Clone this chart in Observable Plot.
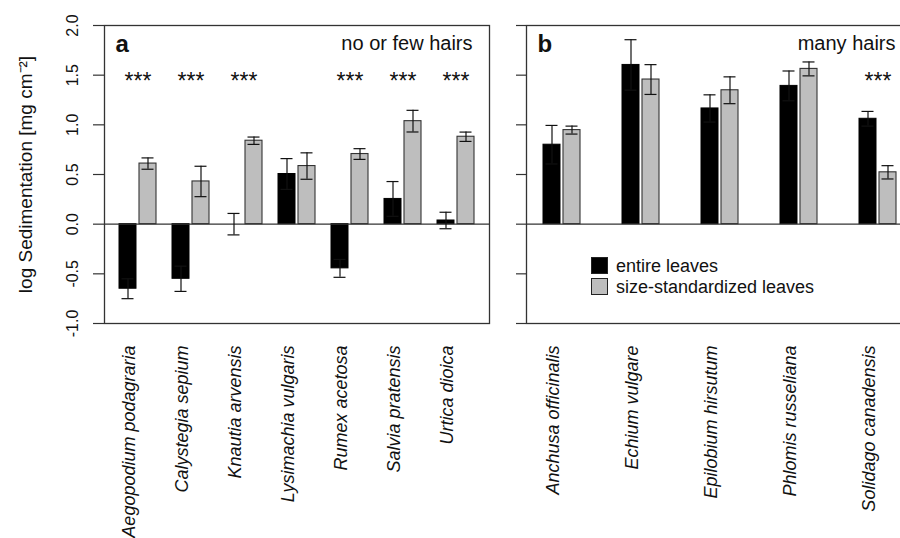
<!DOCTYPE html>
<html><head><meta charset="utf-8">
<script src="https://cdn.jsdelivr.net/npm/d3@7"></script>
<script src="https://cdn.jsdelivr.net/npm/@observablehq/plot@0.6"></script>
<style>
html,body{margin:0;padding:0;background:#fff;overflow:hidden;}
#wrap{position:relative;width:900px;height:538px;overflow:hidden;font-family:"Liberation Sans",Arial,sans-serif;background:#fff;}
#pa{position:absolute;left:0;top:0;width:505px;}
#pb{position:absolute;left:505px;top:0;width:408px;}
#pa svg,#pb svg{max-width:none !important;display:block;}
.sw{position:absolute;width:17px;height:17px;box-sizing:border-box;border:1px solid #222;}
.lt{position:absolute;font-size:18px;line-height:20px;color:#111;white-space:nowrap;}
</style></head><body>
<div id="wrap"><div id="pa"></div><div id="pb"></div><div id="legend"></div></div>
<script>
// ---- data ----
const speciesA = ["Aegopodium podagraria","Calystegia sepium","Knautia arvensis","Lysimachia vulgaris","Rumex acetosa","Salvia pratensis","Urtica dioica"];
const entireA   = [-0.65, -0.55, 0.0, 0.505, -0.445, 0.254, 0.037];
const entireSeA = [0.10, 0.127, 0.108, 0.155, 0.09, 0.175, 0.083];
const sizeA     = [0.61, 0.43, 0.84, 0.585, 0.706, 1.037, 0.88];
const sizeSeA   = [0.057, 0.153, 0.037, 0.133, 0.054, 0.109, 0.047];
const starsA    = ["Aegopodium podagraria","Calystegia sepium","Knautia arvensis","Rumex acetosa","Salvia pratensis","Urtica dioica"];

const speciesB = ["Anchusa officinalis","Echium vulgare","Epilobium hirsutum","Phlomis russeliana","Solidago canadensis"];
const entireB   = [0.80, 1.603, 1.165, 1.392, 1.061];
const entireSeB = [0.194, 0.254, 0.137, 0.15, 0.074];
const sizeB     = [0.947, 1.456, 1.348, 1.563, 0.522];
const sizeSeB   = [0.04, 0.15, 0.135, 0.07, 0.067];
const starsB    = ["Solidago canadensis"];

const yTicks = [-1, -0.5, 0, 0.5, 1, 1.5, 2];
const starLevel = 1.5;
const legendLabels = ["entire leaves", "size-standardized leaves"];
const legendColors = ["#000000", "#bebebe"];
const yTitle = "log Sedimentation [mg cm\u207B\u00B2]";

const FONT = '"Liberation Sans", Arial, sans-serif';

function panel(o) {
  const rows = o.species.map((s, i) => ({species: s, entire: o.entire[i], entireSe: o.entireSe[i], size: o.size[i], sizeSe: o.sizeSe[i]}));
  const starRows = rows.filter(d => o.stars.includes(d.species));
  const marks = [
    Plot.barY(rows, {x: "species", y: "entire", fill: legendColors[0], stroke: "#000", strokeWidth: 1, insetRight: 20}),
    Plot.barY(rows, {x: "species", y: "size", fill: legendColors[1], stroke: "#333", strokeWidth: 1.1, insetLeft: 20}),
    Plot.ruleY([0], {stroke: "#333", strokeWidth: 1.2}),
    Plot.ruleX(rows, {x: "species", y1: d => d.entire - d.entireSe, y2: d => d.entire + d.entireSe, dx: -10, stroke: "#111", strokeWidth: 1.2}),
    Plot.ruleX(rows, {x: "species", y1: d => d.size - d.sizeSe, y2: d => d.size + d.sizeSe, dx: 10, stroke: "#111", strokeWidth: 1.2}),
    Plot.tickY(rows, {x: "species", y: d => d.entire + d.entireSe, insetLeft: 2.5, insetRight: 22.5, stroke: "#111", strokeWidth: 1.2}),
    Plot.tickY(rows, {x: "species", y: d => d.entire - d.entireSe, insetLeft: 2.5, insetRight: 22.5, stroke: "#111", strokeWidth: 1.2}),
    Plot.tickY(rows, {x: "species", y: d => d.size + d.sizeSe, insetLeft: 22.5, insetRight: 2.5, stroke: "#111", strokeWidth: 1.2}),
    Plot.tickY(rows, {x: "species", y: d => d.size - d.sizeSe, insetLeft: 22.5, insetRight: 2.5, stroke: "#111", strokeWidth: 1.2}),
    Plot.text(starRows, {x: "species", y: () => starLevel, text: () => "***", fontSize: 23, dy: 6, fill: "#111"}),
    Plot.text(rows, {x: "species", text: "species", frameAnchor: "bottom", rotate: -90, textAnchor: "end", lineAnchor: "middle", dy: 22, dx: -9, fontStyle: "italic", fontSize: 18, fill: "#111"}),
    Plot.text([o.letter], {text: d => d, frameAnchor: "top-left", textAnchor: "start", lineAnchor: "bottom", dx: 11, dy: 26, fontWeight: "bold", fontSize: 24, fill: "#111"}),
    Plot.text([o.title], {text: d => d, frameAnchor: "top-right", textAnchor: "end", lineAnchor: "bottom", dx: -17, dy: 24, fontSize: 20, fill: "#111"}),
    Plot.axisY({ticks: yTicks, tickSize: o.tickSize, tickFormat: () => "", label: null, stroke: "#333", strokeWidth: 1.2}),
    Plot.frame({stroke: "#333", strokeWidth: 1.3})
  ];
  if (o.labels) {
    marks.push(Plot.text(yTicks, {y: d => d, text: d => d.toFixed(1), frameAnchor: "left", textAnchor: "middle", rotate: -90, dx: -32, fontSize: 16, fill: "#111"}));
    marks.push(Plot.text([yTitle], {text: d => d, frameAnchor: "left", textAnchor: "middle", rotate: -90, dx: -79, fontSize: 19, fill: "#111"}));
  }
  return Plot.plot({
    width: o.width, height: 538,
    marginLeft: o.marginLeft, marginRight: o.marginRight, marginTop: 25, marginBottom: 215,
    style: {fontFamily: FONT, background: "transparent", overflow: "visible", maxWidth: "none"},
    x: {domain: o.species, paddingInner: o.pi, paddingOuter: o.po, axis: null},
    y: {domain: [-1, 2], axis: null},
    marks
  });
}

document.getElementById("pa").appendChild(panel({
  species: speciesA, entire: entireA, entireSe: entireSeA, size: sizeA, sizeSe: sizeSeA, stars: starsA,
  width: 505, marginLeft: 104, marginRight: 16, pi: 0.306, po: 0.263, letter: "a", title: "no or few hairs", labels: true, tickSize: 11
}));
document.getElementById("pb").appendChild(panel({
  species: speciesB, entire: entireB, entireSe: entireSeB, size: sizeB, sizeSe: sizeSeB, stars: starsB,
  width: 408, marginLeft: 21, marginRight: 1, pi: 0.536, po: 0.19, letter: "b", title: "many hairs", labels: false, tickSize: 10
}));

// legend (inside panel b)
const lg = document.getElementById("legend");
legendLabels.forEach((t, i) => {
  const sw = document.createElement("div");
  sw.className = "sw";
  sw.style.left = "591px"; sw.style.top = (257 + i * 21) + "px";
  sw.style.background = legendColors[i];
  lg.appendChild(sw);
  const tx = document.createElement("div");
  tx.className = "lt";
  tx.style.left = "616px"; tx.style.top = (256 + i * 21) + "px";
  tx.textContent = t;
  lg.appendChild(tx);
});
</script>
</body></html>
